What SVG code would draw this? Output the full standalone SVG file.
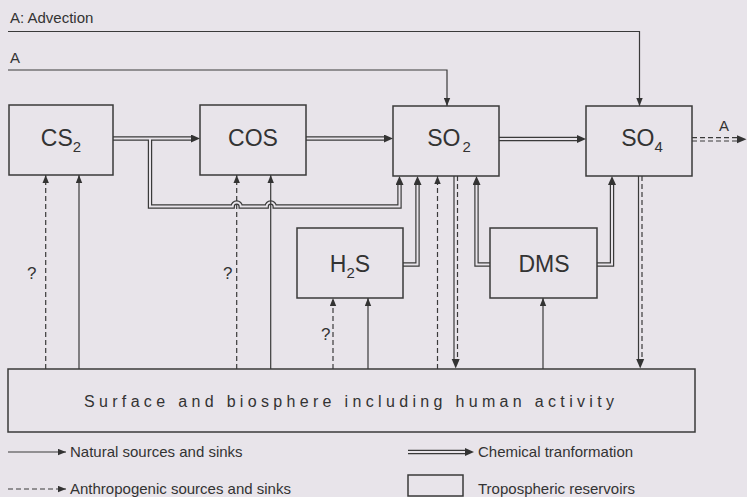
<svg xmlns="http://www.w3.org/2000/svg" width="747" height="497" viewBox="0 0 747 497">
<style>
.bg{fill:#e8e4ea}
.ln{stroke:#3a3a3a;stroke-width:1.2;fill:none}
.ds{stroke-dasharray:5 3}
.dbo{stroke:#3a3a3a;stroke-width:4.4;fill:none;stroke-linejoin:miter}
.dbi{stroke:#e8e4ea;stroke-width:2;fill:none;stroke-linejoin:miter}
.box{fill:none;stroke:#3a3a3a;stroke-width:1.5}
.lbl{font-family:"Liberation Sans",Arial,sans-serif;font-size:23px;fill:#333;text-anchor:middle}
.sm{font-family:"Liberation Sans",Arial,sans-serif;font-size:15px;fill:#333}
.q{font-family:"Liberation Sans",Arial,sans-serif;font-size:17px;fill:#333}
.ah{fill:#333}
</style>
<defs>
<marker id="a1" markerUnits="userSpaceOnUse" markerWidth="9" markerHeight="7" refX="8" refY="3.5" orient="auto"><path d="M0,0.3 L8,3.5 L0,6.7 Z" fill="#333"/></marker>
<marker id="a2" markerUnits="userSpaceOnUse" markerWidth="10" markerHeight="8" refX="1" refY="4" orient="auto"><path d="M0,0 L9,4 L0,8 Z" fill="#333"/></marker>
</defs>
<rect class="bg" x="0" y="0" width="747" height="497"/>

<g id="connectors">
  <!-- advection -->
  <text class="sm" x="10" y="23">A: Advection</text>
  <text class="sm" x="10" y="63">A</text>
  <path class="ln" d="M8,31.5 H639.5 V106" marker-end="url(#a1)"/>
  <path class="ln" d="M8,70 H447 V106" marker-end="url(#a1)"/>
  <!-- double lines outer -->
  <path class="dbo" d="M113,138.5 H192"/>
  <path class="dbo" d="M306,138.5 H385"/>
  <path class="dbo" d="M499,139 H578"/>
  <path class="dbo" d="M150,138.5 V206.5 H232.7 a4,4 0 0 1 8,0 H266.7 a4,4 0 0 1 8,0 H399.5 V184"/>
  <path class="dbo" d="M403,264.5 H417.5 V184"/>
  <path class="dbo" d="M490,264.5 H476.5 V184"/>
  <path class="dbo" d="M597,264.5 H612 V184"/>
  <!-- double lines inner -->
  <path class="dbi" d="M113,138.5 H192" marker-end="url(#a2)"/>
  <path class="dbi" d="M306,138.5 H385" marker-end="url(#a2)"/>
  <path class="dbi" d="M499,139 H578" marker-end="url(#a2)"/>
  <path class="dbi" d="M150,138.5 V206.5 H232.7 a4,4 0 0 1 8,0 H266.7 a4,4 0 0 1 8,0 H399.5 V184" marker-end="url(#a2)"/>
  <path class="dbi" d="M403,264.5 H417.5 V184" marker-end="url(#a2)"/>
  <path class="dbi" d="M490,264.5 H476.5 V184" marker-end="url(#a2)"/>
  <path class="dbi" d="M597,264.5 H612 V184" marker-end="url(#a2)"/>
  <!-- sources from surface -->
  <path class="ln ds" d="M45.7,369 V175" marker-end="url(#a1)"/>
  <path class="ln" d="M79,369 V175" marker-end="url(#a1)"/>
  <path class="ln ds" d="M236.7,369 V175" marker-end="url(#a1)"/>
  <path class="ln" d="M270.7,369 V175" marker-end="url(#a1)"/>
  <path class="ln ds" d="M333,369 V298" marker-end="url(#a1)"/>
  <path class="ln" d="M368,369 V298" marker-end="url(#a1)"/>
  <path class="ln ds" d="M437.5,369 V176" marker-end="url(#a1)"/>
  <path class="ln" d="M543,369 V298" marker-end="url(#a1)"/>
  <!-- sinks to surface -->
  <path class="ln" d="M454,176 V362"/>
  <path class="ln ds" d="M457.5,176 V362"/>
  <polygon class="ah" points="451.7,359 459.7,359 455.7,368.5"/>
  <path class="ln" d="M638.5,176 V362"/>
  <path class="ln ds" d="M642,176 V362"/>
  <polygon class="ah" points="636.2,359 644.2,359 640.2,368.5"/>
  <!-- SO4 advection out -->
  <path class="ln ds" d="M692,137.6 H739"/>
  <path class="ln ds" d="M692,141 H739"/>
  <polygon class="ah" points="737,135.3 746.5,139.3 737,143.3"/>
  <text class="sm" x="719" y="131">A</text>
  <!-- question marks -->
  <text class="q" x="27" y="279">?</text>
  <text class="q" x="223" y="279">?</text>
  <text class="q" x="321" y="340">?</text>
</g>

<g id="cs2"><rect class="box" x="9" y="105" width="104" height="70"/><text class="lbl" x="61" y="146">CS<tspan font-size="15" dy="6">2</tspan></text></g>
<g id="cos"><rect class="box" x="200" y="105" width="106" height="70"/><text class="lbl" x="253" y="146">COS</text></g>
<g id="so2"><rect class="box" x="393" y="106" width="106" height="70"/><text class="lbl" x="449" y="146">SO<tspan font-size="15" dy="6" dx="2">2</tspan></text></g>
<g id="so4"><rect class="box" x="586" y="106" width="106" height="70"/><text class="lbl" x="642" y="146">SO<tspan font-size="15" dy="6">4</tspan></text></g>
<g id="h2s"><rect class="box" x="297" y="228" width="106" height="70"/><text class="lbl" x="350" y="272">H<tspan font-size="15" dy="6">2</tspan><tspan dy="-6">S</tspan></text></g>
<g id="dms"><rect class="box" x="490" y="228" width="107" height="70"/><text class="lbl" x="544" y="272">DMS</text></g>
<g id="surface"><rect class="box" x="8" y="369" width="687" height="63"/><text x="349" y="407" text-anchor="middle" textLength="530" lengthAdjust="spacing" style="font-family:'Liberation Sans',Arial,sans-serif;font-size:16px;fill:#333">Surface and biosphere including human activity</text></g>

<g id="legend">
  <path class="ln" d="M8,452 H66" marker-end="url(#a1)"/>
  <text class="sm" x="70" y="457">Natural sources and sinks</text>
  <path class="ln ds" d="M8,489 H66" marker-end="url(#a1)"/>
  <text class="sm" x="70" y="494">Anthropogenic sources and sinks</text>
  <path class="dbo" d="M408,452 H466"/>
  <path class="dbi" d="M408,452 H466" marker-end="url(#a2)"/>
  <text class="sm" x="478" y="457">Chemical tranformation</text>
  <rect class="box" x="408" y="475" width="55" height="21"/>
  <text class="sm" x="478" y="494">Tropospheric reservoirs</text>
</g>
</svg>
